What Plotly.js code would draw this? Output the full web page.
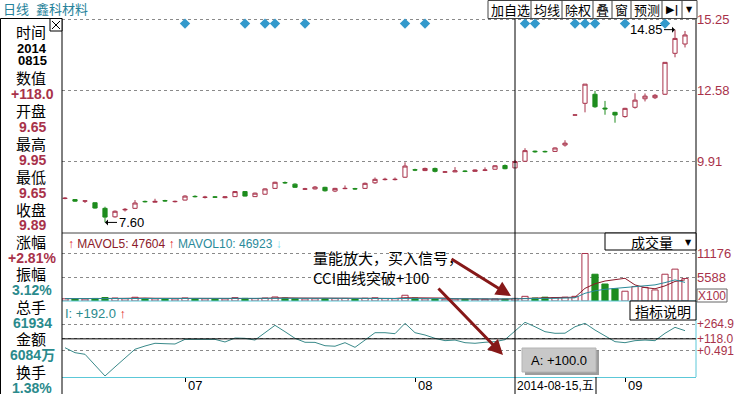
<!DOCTYPE html>
<html><head><meta charset="utf-8">
<script src="https://cdn.plot.ly/plotly-3.0.1.min.js"></script>
<style>html,body{margin:0;padding:0;background:#fff;overflow:hidden}#chart{width:735px;height:394px}</style>
</head><body><div id="chart"></div>
<script>
// ---------------- data ----------------
const stockName = '鑫科材料';
const periodName = '日线';
const dates = [
 '2014-06-13','2014-06-16','2014-06-17','2014-06-18','2014-06-19','2014-06-20','2014-06-23','2014-06-24','2014-06-25','2014-06-26','2014-06-27','2014-06-30',
 '2014-07-01','2014-07-02','2014-07-03','2014-07-04','2014-07-07','2014-07-08','2014-07-09','2014-07-10','2014-07-11','2014-07-14','2014-07-15','2014-07-16','2014-07-17','2014-07-18','2014-07-21','2014-07-22','2014-07-23','2014-07-24','2014-07-25','2014-07-28','2014-07-29','2014-07-30','2014-07-31',
 '2014-08-01','2014-08-04','2014-08-05','2014-08-06','2014-08-07','2014-08-08','2014-08-11','2014-08-12','2014-08-13','2014-08-14','2014-08-15','2014-08-18','2014-08-19','2014-08-20','2014-08-21','2014-08-22','2014-08-25','2014-08-26','2014-08-27','2014-08-28','2014-08-29',
 '2014-09-01','2014-09-02','2014-09-03','2014-09-04','2014-09-05','2014-09-09','2014-09-10'];
const open  = [8.50,8.46,8.40,8.34,8.13,7.81,8.07,8.13,8.39,8.36, 8.42,8.38,8.44,8.58,8.54,8.56,8.53,8.57,8.76,8.57, 8.66,8.88,9.10,9.04,8.85,8.86,8.92,8.78,8.87,8.87, 8.88,9.09,9.21,9.21,9.30,9.58,9.55,9.63,9.49,9.50, 9.53,9.52,9.56,9.60,9.74,9.65,9.90,10.28,10.27,10.27, 10.51,11.64,12.08,12.42,11.90,11.74,11.58,11.93,12.25,12.29, 12.42,13.96,14.31];
const high  = [8.55,8.48,8.41,8.35,8.19,8.05,8.14,8.44,8.42,8.49, 8.45,8.42,8.62,8.62,8.60,8.59,8.58,8.78,8.78,8.72, 8.88,9.13,9.14,9.07,8.90,8.97,8.94,8.90,8.99,8.90, 9.10,9.29,9.28,9.29,9.86,9.62,9.66,9.66,9.53,9.68, 9.56,9.59,9.67,9.75,9.78,9.95,10.39,10.30,10.30,10.42, 10.69,11.64,12.80,12.55,12.17,11.76,11.91,12.46,12.45,12.43, 13.62,14.85,14.80];
const low   = [8.47,8.38,8.33,8.12,7.60,7.78,8.01,8.12,8.35,8.35, 8.38,8.35,8.43,8.54,8.50,8.52,8.51,8.56,8.58,8.56, 8.65,8.87,9.05,8.90,8.82,8.84,8.76,8.74,8.85,8.83, 8.86,9.05,9.18,9.18,9.28,9.53,9.53,9.48,9.47,9.49, 9.49,9.51,9.53,9.59,9.60,9.65,9.88,10.22,10.23,10.25, 10.45,11.64,11.74,11.91,11.65,11.35,11.54,11.88,12.15,12.24, 12.40,13.81,14.18];
const close = [8.51,8.40,8.41,8.14,7.80,8.02,8.09,8.33,8.38,8.39, 8.41,8.39,8.59,8.57,8.55,8.55,8.56,8.76,8.59,8.70, 8.86,9.11,9.09,8.92,8.86,8.93,8.79,8.88,8.88,8.86, 9.07,9.22,9.22,9.22,9.72,9.57,9.63,9.52,9.50,9.54, 9.52,9.57,9.57,9.73,9.62,9.89,10.30,10.26,10.26,10.40, 10.58,11.64,12.80,11.95,11.87,11.64,11.89,12.20,12.35,12.38, 13.62,14.52,14.65];
const volume = [520,480,450,600,820,700,520,880,560,500, 470,480,720,560,500,460,480,800,620,560, 700,950,680,600,480,520,540,560,600,480, 650,760,560,540,1350,700,500,480,430,470, 430,420,430,480,430,619,1100,700,900,800, 900,1100,11176,6300,4000,2900,2300,3400,3200,2600, 6300,7500,5300];
const mavol5 = [560,540,520,540,570,610,630,700,700,640, 620,580,550,560,540,540,500,560,570,580, 630,730,760,700,680,650,570,540,540,540, 570,610,610,600,770,780,730,720,690,520, 460,450,440,450,440,476,590,670,750,820, 880,880,2980,4060,4700,5100,5340,3780,3160,2880, 3560,4600,4980];
const mavol10 = [560,550,540,550,560,580,590,610,620,630, 620,600,600,620,610,580,570,560,570,580, 590,640,650,640,620,630,650,650,620,620, 620,620,590,580,650,680,670,660,650,640, 600,550,510,480,470,469,530,550,600,630, 680,750,1820,2400,2760,2990,3110,3380,3610,3790, 4330,4970,4380];
const cci = [30,-19,-35,-140,-250,-160,-75,15,47,74, 70,67,113,116,113,113,87,126,123,106, 183,252,189,123,84,83,50,45,80,34, 106,179,179,169,272,179,156,123,100,106, 80,74,84,90,110,192,282,238,189,173, 174,238,272,205,146,90,80,100,106,100, 173,232,199];
const signalDates = ['2014-07-01','2014-07-09','2014-07-11','2014-07-14','2014-07-17','2014-07-31','2014-08-04','2014-08-18','2014-08-19','2014-08-25','2014-08-26','2014-08-27','2014-09-01','2014-09-05'];
const monthTicks = ['2014-07-01','2014-08-01','2014-09-01'];
const monthLabels = ['07','08','09'];
const priceTicks = [9.91,12.58,15.25];
const volTicks = [5588,11176];
const cciTicks = [0.491,118.0,264.9];
const cciTickText = ['+0.491','+118.0','+264.9'];
const cursorDate = '2014-08-15';
const cursorLabel = '2014-08-15,五';
const cursorCci = 118.0;
const infoLabels = ['时间','数值','开盘','最高','最低','收盘','涨幅','振幅','总手','金额','换手'];
const infoValues = ['+118.0','9.65','9.95','9.65','9.89','+2.81%','3.12%','61934','6084万','1.38%'];
const infoDate = ['2014','0815'];
const mavol5Text = 'MAVOL5: 47604';
const mavol10Text = 'MAVOL10: 46923';
const cciHeader = 'I: +192.0';
const lowLabel = {date:'2014-06-19', value:7.60};
const highLabel = {date:'2014-09-09', value:14.85};
const noteText = '量能放大，买入信号，<br>CCI曲线突破+100';
const tipText = 'A: +100.0';
const buttons = ['加自选','均线','除权','叠','窗','预测'];

// ---------------- geometry helpers (decoration only) ----------------
const L=62, R=696, T=18, B=377;
const px = x => (x-L)/(R-L);
const py = y => (B-y)/(B-T);
const fCJK = 'Noto Sans CJK SC, sans-serif';
const fLat = 'Liberation Sans, Arial, sans-serif';
const red='#A8324A', teal='#2A8A8C', green='#1E8C1E', cyanLine='#5CC8D8';
const priceRange=[7.202,15.288];

const up = close.map((c,i)=> c>open[i] || (c===open[i] && (i===0 || c>=close[i-1])));

const traces = [
 {type:'candlestick', x:dates, open:open, high:high, low:low, close:close, xaxis:'x', yaxis:'y',
  increasing:{line:{color:red,width:1},fillcolor:'#ffffff'},
  decreasing:{line:{color:green,width:1},fillcolor:green},
  whiskerwidth:0, hoverinfo:'skip', showlegend:false},
 {type:'scatter', mode:'markers', x:signalDates, y:signalDates.map(()=>priceRange[1]-0.21), xaxis:'x', yaxis:'y',
  marker:{symbol:'diamond', size:8, color:'#3399CC'}, hoverinfo:'skip'},
 {type:'bar', x:dates, y:volume, xaxis:'x', yaxis:'y2', width:0.62,
  marker:{color:up.map(u=>u?'#ffffff':green), line:{color:up.map(u=>u?red:green), width:1}}, hoverinfo:'skip'},
 {type:'scatter', mode:'lines', x:dates, y:mavol5, xaxis:'x', yaxis:'y2', line:{color:'#8B1A2A',width:1}, hoverinfo:'skip'},
 {type:'scatter', mode:'lines', x:dates, y:mavol10, xaxis:'x', yaxis:'y2', line:{color:'#2A8A9A',width:1}, hoverinfo:'skip'},
 {type:'scatter', mode:'lines', x:dates, y:cci, xaxis:'x', yaxis:'y3', line:{color:'#3A8A8A',width:1}, hoverinfo:'skip'}
];

const yCommon = {side:'right', showgrid:true, griddash:'dot', gridcolor:'#8a8a8a', gridwidth:1, zeroline:false, showline:false, ticks:'', tickfont:{family:fLat,size:13,color:red}, fixedrange:true};

const shapes = [];
const ann = [];
function rect(x0,y0,x1,y1,line,fill){shapes.push({type:'rect',xref:'paper',yref:'paper',x0:px(x0),x1:px(x1),y0:py(y1),y1:py(y0),line:{color:line,width:1},fillcolor:fill||'rgba(0,0,0,0)',layer:'above'});}
function line(x0,y0,x1,y1,color,w){shapes.push({type:'line',xref:'paper',yref:'paper',x0:px(x0),x1:px(x1),y0:py(y0),y1:py(y1),line:{color:color,width:w||1},layer:'above'});}
function txt(x,y,text,opt){opt=opt||{};ann.push(Object.assign({xref:'paper',yref:'paper',x:px(x),y:py(y),text:text,showarrow:false,xanchor:'center',yanchor:'middle',font:{family:fCJK,size:14,color:'#000'}},opt));}

// panel separators / borders
line(L,233,R,233,'#444');
line(L,301,R,301,cyanLine);
line(R,18,R,301,'#000');
line(R,301,R,377,cyanLine);
// left info panel
rect(0.5,18.5,62,395,'#000','#ffffff');
rect(50,18.5,62,31,'#000','#ffffff');
line(52,21,60,29,'#000'); line(52,29,60,21,'#000');
// cursor lines
const ci = dates.indexOf(cursorDate);
shapes.push({type:'line',xref:'x',yref:'paper',x0:ci,x1:ci,y0:py(394),y1:1,line:{color:'#000',width:1},layer:'above'});
shapes.push({type:'line',xref:'paper',yref:'y3',x0:0,x1:1,y0:cursorCci,y1:cursorCci,line:{color:'#000',width:1},layer:'above'});
line(596,377,596,394,'#000');
// top buttons
rect(488,0.5,697,18.5,'#444','#ffffff');
const divs=[531,562,593,612,631,662,682];
divs.forEach(d=>line(d,0.5,d,18.5,'#444'));
const bx=[510,546.5,577.5,602.5,621.5,646.5];
buttons.forEach((b,i)=>txt(bx[i],9.5,b,{font:{family:fCJK,size:13,color:'#000'}}));
txt(672,9.5,'<b>▶|</b>',{font:{family:'DejaVu Sans',size:11,color:'#000'}});
txt(689,9.5,'▼',{font:{family:'DejaVu Sans',size:8,color:'#000'}});
// title
txt(1,8.5,periodName,{xanchor:'left',font:{family:fCJK,size:13,color:'#26829A'}});
txt(34,8.5,stockName,{xanchor:'left',font:{family:fCJK,size:13,color:'#26829A'}});
// info panel text
const rowY=[32,77.5,110.5,143.5,176.5,209,241.5,273.5,306.5,338.5,371.5];
infoLabels.forEach((lab,i)=>txt(31,rowY[i],lab,{font:{family:fCJK,size:15,color:'#000'}}));
txt(32,48.5,'<b>'+infoDate[0]+'</b>',{font:{family:fLat,size:13,color:'#000'}});
txt(32,61,'<b>'+infoDate[1]+'</b>',{font:{family:fLat,size:13,color:'#000'}});
infoValues.forEach((v,i)=>{
  const c = i<6 ? red : teal;
  txt(32,rowY[i+1]+16.2,'<b>'+v+'</b>',{font:{family:fLat+', Noto Sans CJK SC',size:14,color:c}});
});
// volume panel header
txt(66,244,'<span style="color:#E02020"><b>↑</b></span> <span style="color:#8B1A2A">'+mavol5Text+'</span> <span style="color:#E02020"><b>↑</b></span> <span style="color:#2A8A9A">'+mavol10Text+'</span> <span style="color:#7FDFF0"><b>↓</b></span>',{xanchor:'left',font:{family:fLat,size:12,color:'#000'}});
rect(605,233,696,250,'#000','#ffffff');
txt(652,242,'成交量',{font:{family:fCJK,size:14,color:'#000'}});
txt(688,242,'▼',{font:{family:'DejaVu Sans',size:8,color:'#000'}});
rect(697,289,727,302,'#666','#ffffff');
txt(712,295.5,'X100',{font:{family:fLat,size:12,color:red}});
// indicator panel header
txt(63,313,cciHeader+' <span style="color:#E02020"><b>↑</b></span>',{xanchor:'left',font:{family:fLat,size:13,color:teal}});
rect(630,301,696,320,'#000','#ffffff');
txt(663,311,'指标说明',{font:{family:fCJK,size:14,color:'#000'}});
// x labels
monthTicks.forEach((m,i)=>ann.push({xref:'x',yref:'paper',x:dates.indexOf(m),y:py(385),text:monthLabels[i],showarrow:false,xanchor:'left',yanchor:'middle',xshift:1,font:{family:fLat,size:13,color:'#000'}}));
ann.push({xref:'x',yref:'paper',x:ci,y:py(386),text:cursorLabel,showarrow:false,xanchor:'left',yanchor:'middle',xshift:0,font:{family:fLat+', Noto Sans CJK SC',size:12,color:'#000'}});
// high/low labels
ann.push({xref:'x',yref:'y',x:dates.indexOf(lowLabel.date),y:lowLabel.value,text:lowLabel.value.toFixed(2),showarrow:true,ax:26,ay:0,arrowhead:1,arrowsize:1,arrowwidth:1,arrowcolor:'#000',font:{family:fLat,size:13,color:'#000'}});
ann.push({xref:'x',yref:'y',x:dates.indexOf(highLabel.date),y:highLabel.value,text:highLabel.value.toFixed(2),showarrow:true,ax:-29,ay:0,arrowhead:1,arrowsize:1,arrowwidth:1,arrowcolor:'#000',font:{family:fLat,size:13,color:'#000'}});
// note and red arrows
txt(311,267,noteText,{xanchor:'left',align:'left',font:{family:fCJK,size:15,color:'#000'}});
ann.push({xref:'paper',yref:'paper',x:px(511),y:py(296),text:'',showarrow:true,ax:-61,ay:-38,arrowhead:2,arrowsize:1,arrowwidth:3,arrowcolor:'#861818'});
ann.push({xref:'paper',yref:'paper',x:px(503),y:py(355),text:'',showarrow:true,ax:-66,ay:-68,arrowhead:2,arrowsize:1,arrowwidth:3,arrowcolor:'#861818'});
// tooltip
rect(525,351,599,375,'rgba(0,0,0,0)','#9c9c9c');
rect(522,348,596,372,'#b4b4b4','#c8c8c8');
txt(559,360,tipText,{font:{family:fLat,size:13,color:'#000'}});

const layout = {
 width:735, height:394, margin:{l:62,r:39,t:18,b:17,pad:0},
 paper_bgcolor:'#ffffff', plot_bgcolor:'#ffffff', showlegend:false, hovermode:false, dragmode:false,
 boxgap:0.4,
 font:{family:fLat,size:13,color:'#000'},
 xaxis:{type:'category', range:[-0.3,63.1], anchor:'y3', rangeslider:{visible:false}, showgrid:false, zeroline:false,
   showline:true, linecolor:cyanLine, linewidth:1, ticks:'outside', ticklen:4, tickcolor:'#000', tickvals:monthTicks, showticklabels:false, fixedrange:true},
 yaxis:Object.assign({},yCommon,{domain:[py(233),1], range:priceRange, tickvals:priceTicks, ticktext:priceTicks.map(v=>v.toFixed(2))}),
 yaxis2:Object.assign({},yCommon,{domain:[py(301),py(233)], range:[0,16000], tickvals:volTicks, ticktext:volTicks.map(String)}),
 yaxis3:Object.assign({},yCommon,{domain:[0,py(301)], range:[-260,493], tickvals:cciTicks, ticktext:cciTickText, tickfont:{family:fLat,size:12,color:red}}),
 shapes:shapes, annotations:ann
};
Plotly.newPlot('chart', traces, layout, {displayModeBar:false, staticPlot:true});
</script></body></html>
